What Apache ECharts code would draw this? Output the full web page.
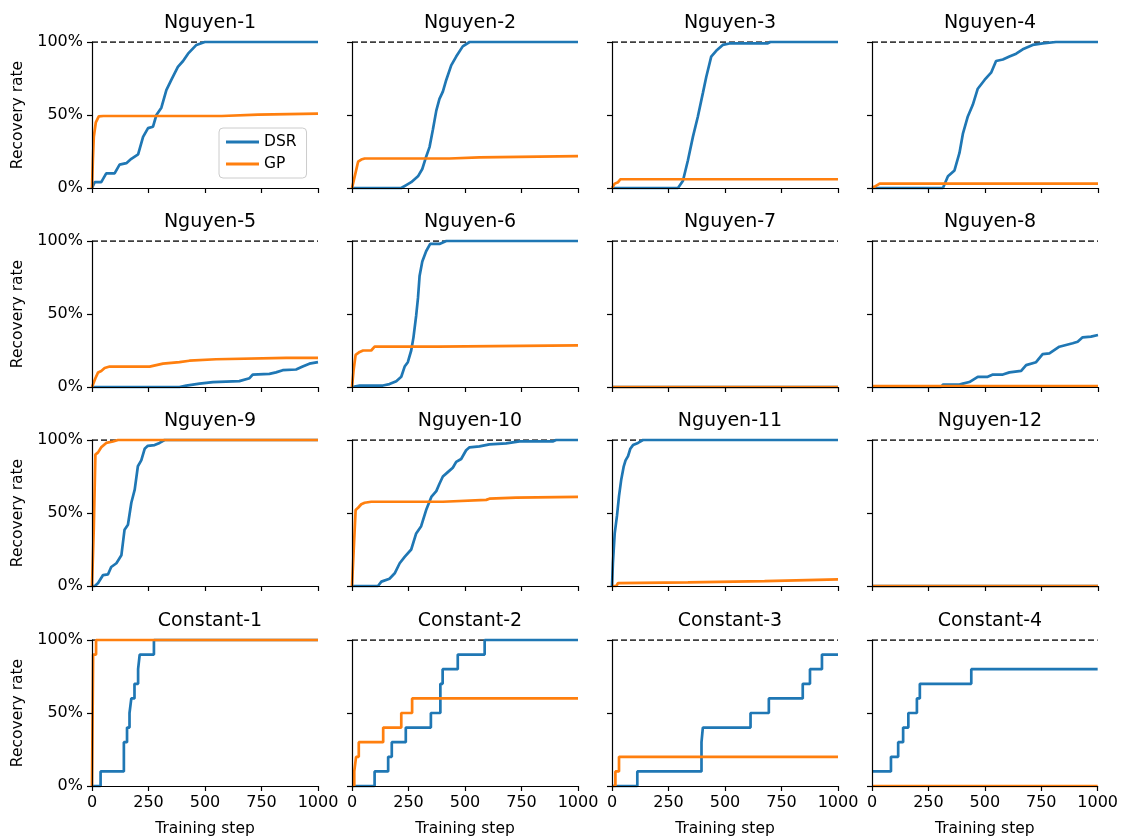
<!DOCTYPE html>
<html>
<head>
<meta charset="utf-8">
<title>Recovery rate</title>
<script src="https://cdn.jsdelivr.net/npm/echarts@6/dist/echarts.min.js"></script>
<style>
html, body { margin: 0; padding: 0; background: #fff; }
#chartDom { width: 1121px; height: 840px; }
</style>
</head>
<body>
<div id="chartDom"></div>
<script>
// panel titles, row by row
const panelTitles = [
  'Nguyen-1', 'Nguyen-2', 'Nguyen-3', 'Nguyen-4',
  'Nguyen-5', 'Nguyen-6', 'Nguyen-7', 'Nguyen-8',
  'Nguyen-9', 'Nguyen-10', 'Nguyen-11', 'Nguyen-12',
  'Constant-1', 'Constant-2', 'Constant-3', 'Constant-4'
];
const xTicks = [0, 250, 500, 750, 1000];
const yTicks = [0, 50, 100];
const targetRate = [[0, 100], [1000, 100]];

// [training step, recovery rate %]
const nguyen1Dsr = [[0,0],[8,0],[12,4],[41,4],[63,10],[100,10],[122,16],[152,17],[174,20],[204,23],[226,35],[248,41],[270,42],[285,50],[307,55],[329,67],[351,74],[380,83],[403,87],[425,92],[462,98],[499,100],[1000,100]];
const nguyen1Gp = [[0,0],[4,20],[8,35],[17,45],[30,49],[50,49.3],[574,49.3],[578,50.2],[735,50.2],[739,51],[1000,51]];
const nguyen2Dsr = [[0,0],[218,0],[240,2],[262,4],[292,8],[311,13],[325,20],[343,28],[358,40],[373,53],[387,61],[402,66],[417,74],[439,84],[461,90],[490,97],[520,100],[1000,100]];
const nguyen2Gp = [[0,0],[12,8],[27,18],[41,19.5],[56,20.2],[431,20.2],[439,21],[564,21],[570,21.8],[1000,21.8]];
const nguyen3Dsr = [[0,0],[292,0],[314,5],[336,19],[358,35],[380,49],[402,65],[417,76],[439,90],[461,94],[490,98],[520,99],[689,99],[700,100],[1000,100]];
const nguyen3Gp = [[0,0],[4,0],[12,3],[27,4],[37,6],[1000,6]];
const nguyen4Dsr = [[0,0],[314,0],[336,8],[365,12],[387,24],[402,37],[424,49],[446,57],[468,68],[498,74],[527,79],[549,87],[579,88],[608,90],[638,92],[667,95],[711,98],[755,99],[814,100],[1000,100]];
const nguyen4Gp = [[0,0],[12,1],[19,2],[34,3],[1000,3]];
const nguyen5Dsr = [[0,0],[387,0],[417,1],[476,2.3],[535,3.4],[652,4],[697,6],[711,8.5],[785,9],[814,10],[844,11.5],[903,12],[932,14],[962,16],[1000,17]];
const nguyen5Gp = [[0,0],[15,6],[27,10],[41,11],[56,13],[78,14],[255,14],[262,15],[314,16],[387,17],[431,18],[549,19],[859,20],[1000,20]];
const nguyen6Dsr = [[0,0],[34,1],[137,1],[166,2],[196,4],[218,7],[233,14],[247,17],[262,25],[272,34],[284,49],[292,61],[299,76],[311,86],[328,93],[346,98],[387,98],[417,100],[1000,100]];
const nguyen6Gp = [[0,0],[7,11.5],[16,22],[34,24],[49,25],[85,25],[100,27.6],[380,27.6],[387,28.5],[1000,28.5]];
const nguyen7Dsr = [[0,0],[1000,0]];
const nguyen7Gp = [[0,0],[1000,0]];
const nguyen8Dsr = [[0,0],[306,0],[314,1.6],[387,1.6],[402,2.3],[431,3.4],[468,7],[512,7],[535,8.5],[579,8.5],[608,10],[660,11],[682,15],[726,17],[755,22.5],[785,23],[829,27.6],[888,30],[910,31],[932,34],[969,34.5],[1000,35.6]];
const nguyen8Gp = [[0,0.7],[1000,0.7]];
const nguyen9Dsr = [[0,0],[13,0],[27,2],[49,7.5],[71,8],[85,13],[108,15.6],[130,21],[144,38.6],[159,42],[174,57],[189,66],[203,82],[218,86],[233,94],[247,96],[277,96.5],[299,98],[321,100],[1000,100]];
const nguyen9Gp = [[0,0],[8,40],[15,90],[27,91.5],[41,95],[63,98],[93,99],[115,100],[1000,100]];
const nguyen10Dsr = [[0,0],[115,0],[130,3],[166,5],[189,8.7],[211,15.6],[233,20],[262,25],[284,36],[306,41],[328,52],[351,61],[373,65],[387,70],[402,75],[424,78],[446,81],[461,85],[483,87],[505,93],[520,95],[564,95.6],[608,97],[682,97.7],[741,99],[888,99],[903,100],[1000,100]];
const nguyen10Gp = [[0,0],[7,0],[16,52],[27,53.6],[41,56],[56,57],[85,57.7],[402,57.7],[409,58.6],[594,59],[608,59.8],[726,60.5],[733,61],[1000,61]];
const nguyen11Dsr = [[0,0],[4,15.6],[12,36],[22,48],[31,61.6],[41,73],[52,82],[60,86],[71,89],[81,94],[93,96.5],[115,98],[137,100],[1000,100]];
const nguyen11Gp = [[0,0],[19,0],[27,2],[34,2.5],[336,2.5],[343,3.4],[675,3.4],[682,4.6],[1000,4.6]];
const nguyen12Dsr = [[0,0],[1000,0]];
const nguyen12Gp = [[0,0],[1000,0]];
// constant benchmarks are plain steps (10 runs)
const constant1Dsr = [[0,0],[38,10],[141,30],[155,40],[166,50],[174,60],[188,70],[204,80],[211,90],[274,100],[1000,100]];
const constant1Gp = [[0,0],[5,90],[18,100],[1000,100]];
const constant2Dsr = [[0,0],[100,10],[160,20],[176,30],[238,40],[349,50],[391,70],[401,80],[468,90],[587,100],[1000,100]];
const constant2Gp = [[0,0],[10,10],[18,20],[30,30],[138,40],[218,50],[266,60],[1000,60]];
const constant3Dsr = [[0,0],[112,10],[396,30],[402,40],[613,50],[694,60],[844,70],[876,80],[929,90],[1000,90]];
const constant3Gp = [[0,0],[15,10],[31,20],[1000,20]];
const constant4Dsr = [[0,10],[84,20],[116,30],[138,40],[161,50],[199,60],[212,70],[440,80],[1000,80]];
const constant4Gp = [[0,0],[1000,0]];

const dsrCurves = [nguyen1Dsr, nguyen2Dsr, nguyen3Dsr, nguyen4Dsr, nguyen5Dsr, nguyen6Dsr, nguyen7Dsr, nguyen8Dsr,
  nguyen9Dsr, nguyen10Dsr, nguyen11Dsr, nguyen12Dsr, constant1Dsr, constant2Dsr, constant3Dsr, constant4Dsr];
const gpCurves = [nguyen1Gp, nguyen2Gp, nguyen3Gp, nguyen4Gp, nguyen5Gp, nguyen6Gp, nguyen7Gp, nguyen8Gp,
  nguyen9Gp, nguyen10Gp, nguyen11Gp, nguyen12Gp, constant1Gp, constant2Gp, constant3Gp, constant4Gp];

const FONT = 'DejaVu Sans';
const BLUE = '#1f77b4';
const ORANGE = '#ff7f0e';
const colLeft = [92, 352, 612, 872];
const rowTop = [42, 241, 440, 640];
const panelW = 226;
const panelH = 146;

const grids = [], xAxes = [], yAxes = [], titles = [], series = [];

panelTitles.forEach(function (name, i) {
  const r = Math.floor(i / 4);
  const c = i % 4;
  const isConstant = r === 3;

  grids.push({ left: colLeft[c], top: rowTop[r], width: panelW, height: panelH });

  titles.push({
    text: name,
    left: colLeft[c] + panelW / 2,
    top: rowTop[r] - 33,
    textAlign: 'center',
    textStyle: { fontFamily: FONT, fontSize: 19, fontWeight: 'normal', color: '#000' }
  });

  xAxes.push({
    gridIndex: i,
    type: 'value',
    min: xTicks[0],
    max: xTicks[xTicks.length - 1],
    interval: xTicks[1] - xTicks[0],
    z: 10,
    name: r === 3 ? 'Training step' : '',
    nameLocation: 'middle',
    nameGap: 35,
    nameTextStyle: { fontFamily: FONT, fontSize: 15.5, color: '#000' },
    axisLine: { show: true, lineStyle: { color: '#000', width: 1.2 } },
    axisTick: { show: true, length: 5, lineStyle: { color: '#000', width: 1.2 } },
    axisLabel: {
      show: r === 3, margin: 9, fontFamily: FONT, fontSize: 16, color: '#000',
      formatter: function (v) { return String(v); }
    },
    splitLine: { show: false }
  });

  yAxes.push({
    gridIndex: i,
    type: 'value',
    min: yTicks[0],
    max: yTicks[yTicks.length - 1],
    interval: yTicks[1] - yTicks[0],
    z: 10,
    name: c === 0 ? 'Recovery rate' : '',
    nameLocation: 'middle',
    nameGap: 66,
    nameTextStyle: { fontFamily: FONT, fontSize: 15.5, color: '#000' },
    axisLine: { show: true, lineStyle: { color: '#000', width: 1.2 } },
    axisTick: { show: true, length: 5, lineStyle: { color: '#000', width: 1.2 } },
    axisLabel: { show: c === 0, margin: 9, formatter: '{value}%', fontFamily: FONT, fontSize: 16, color: '#000' },
    splitLine: { show: false }
  });

  // dashed 100% line, under the curves
  series.push({
    name: 'target',
    type: 'line',
    xAxisIndex: i,
    yAxisIndex: i,
    data: targetRate,
    symbol: 'none',
    silent: true,
    z: 1,
    lineStyle: { color: '#000', width: 1.3, type: [6, 3] }
  });
  series.push({
    name: 'DSR',
    type: 'line',
    xAxisIndex: i,
    yAxisIndex: i,
    data: dsrCurves[i],
    step: isConstant ? 'end' : false,
    symbol: 'none',
    clip: false,
    z: 2,
    color: BLUE,
    lineStyle: { color: BLUE, width: 2.7 }
  });
  series.push({
    name: 'GP',
    type: 'line',
    xAxisIndex: i,
    yAxisIndex: i,
    data: gpCurves[i],
    step: isConstant ? 'end' : false,
    symbol: 'none',
    clip: false,
    z: 3,
    color: ORANGE,
    lineStyle: { color: ORANGE, width: 2.7 }
  });
});

const chart = echarts.init(document.getElementById('chartDom'));
chart.setOption({
  animation: false,
  backgroundColor: '#fff',
  title: titles,
  legend: {
    data: ['DSR', 'GP'],
    orient: 'vertical',
    left: 219,
    top: 128,
    icon: 'rect',
    itemWidth: 33,
    itemHeight: 3,
    itemGap: 6,
    padding: [6, 10, 6, 7],
    borderColor: '#ccc',
    borderWidth: 1,
    borderRadius: 4,
    backgroundColor: 'rgba(255,255,255,0.8)',
    textStyle: { fontFamily: FONT, fontSize: 15.5, color: '#000' }
  },
  grid: grids,
  xAxis: xAxes,
  yAxis: yAxes,
  series: series
});
</script>
</body>
</html>
